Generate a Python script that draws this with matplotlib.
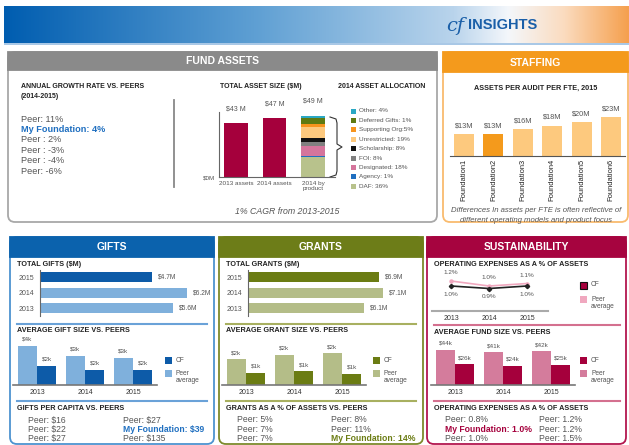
import numpy as np
import matplotlib.pyplot as plt
from matplotlib.patches import FancyBboxPatch, Rectangle
from matplotlib.colors import to_rgb

plt.rcParams['font.family'] = ['Liberation Sans', 'DejaVu Sans']

W, H = 629, 445

# ---- data ----
growth_labels = ['Peer: 11%', 'My Foundation: 4%', 'Peer : 2%', 'Peer : -3%', 'Peer : -4%', 'Peer: -6%']
asset_cats = ['2013 assets', '2014 assets', '2014 by\nproduct']
asset_totals = [43, 47, 49]
alloc_names = ['DAF: 36%', 'Agency: 1%', 'Designated: 18%', 'FOI: 8%', 'Scholarship: 8%',
               'Unrestricted: 19%', 'Supporting Org:5%', 'Deferred Gifts: 1%', 'Other: 4%']
alloc_share = [32, 2, 16, 7, 7, 18, 5, 10, 3]  # share of the stacked bar as drawn
alloc_colors = ['#b8c28c', '#1f6fc0', '#d5759c', '#808080', '#111111',
                '#fdc97e', '#f7941d', '#5f7a12', '#2aa8c4']

fte_names = ['Foundation1', 'Foundation2', 'Foundation3', 'Foundation4', 'Foundation5', 'Foundation6']
fte_assets = [13, 13, 16, 18, 20, 23]

years = ['2013', '2014', '2015']
total_gifts = [5.6, 6.2, 4.7]
gift_peer = [3.9, 2.9, 2.7]
gift_cf = [1.9, 1.55, 1.5]
gifts_left = ['Peer: $16', 'Peer: $22', 'Peer: $27']
gifts_right = ['Peer: $27', 'My Foundation: $39', 'Peer: $135']

total_grants = [6.1, 7.1, 6.9]
grant_peer = [1.7, 2.0, 2.1]
grant_cf = [0.8, 0.9, 0.75]
grants_left = ['Peer: 5%', 'Peer: 7%', 'Peer: 7%']
grants_right = ['Peer: 8%', 'Peer: 11%', 'My Foundation: 14%']

opex_peer = [1.2, 1.0, 1.1]
opex_cf = [1.0, 0.9, 1.0]
fund_peer = [44, 41, 42]
fund_cf = [26, 24, 25]
opex_left = ['Peer: 0.8%', 'My Foundation: 1.0%', 'Peer: 1.0%']
opex_right = ['Peer: 1.2%', 'Peer: 1.2%', 'Peer: 1.5%']

GREY_TXT = '#555555'

fig = plt.figure(figsize=(6.29, 4.45), dpi=100)
bg = fig.add_axes([0, 0, 1, 1])
bg.set_xlim(0, W)
bg.set_ylim(H, 0)
bg.axis('off')


def px_axes(x0, y0, x1, y1):
    ax = fig.add_axes([x0 / W, 1 - y1 / H, (x1 - x0) / W, (y1 - y0) / H])
    ax.patch.set_alpha(0)
    for s in ax.spines.values():
        s.set_visible(False)
    return ax


def T(x, y, s, size=6, color=GREY_TXT, weight='normal', ha='left', va='center', **kw):
    bg.text(x, y, s, size=size, color=color, weight=weight, ha=ha, va=va, **kw)


def panel(x0, y0, x1, y1, edge, head, title, hh=20, lw=1.3):
    bg.add_patch(FancyBboxPatch((x0, y0), x1 - x0, y1 - y0,
                                boxstyle='round,pad=0,rounding_size=7',
                                fc='white', ec=edge, lw=lw))
    bg.add_patch(Rectangle((x0, y0), x1 - x0, hh, fc=head, ec=head, lw=lw))
    T((x0 + x1) / 2, y0 + hh / 2 + 0.5, title, size=7.5, color='white', weight='bold', ha='center')


# ---- header gradient ----
stops_x = [0, 250, 450, 505, 560, 625]
stops_c = ['#005db0', '#5e9fd3', '#b9d4ec', '#f4f7fb', '#fbdcc0', '#f5a04e']
xs = np.linspace(0, 625, 400)
rgb = np.array([to_rgb(c) for c in stops_c])
grad = np.stack([np.interp(xs, stops_x, rgb[:, k]) for k in range(3)], axis=-1)[None, :, :]
bg.imshow(grad, extent=[4, 629, 43, 6], aspect='auto', zorder=0)
bg.add_patch(Rectangle((4, 43), 625, 1.5, fc='#a9c8e6', ec='none'))
T(464, 26, 'cf', size=14, color='#1a5fa8', ha='right', family='DejaVu Serif', style='italic')
T(468, 25, 'INSIGHTS', size=10.5, color='#1a5fa8', weight='bold')

# ---- panels ----
panel(8, 52, 437, 222, '#a8a8a8', '#8a8a8a', 'FUND ASSETS', hh=18)
panel(443, 52, 628, 222, '#f9bb6e', '#f49a1c', 'STAFFING')
panel(10, 237, 214, 444, '#4d93d0', '#0b62ad', 'GIFTS')
panel(219, 237, 423, 444, '#7d8a2c', '#6d7d18', 'GRANTS')
panel(427, 237, 626, 444, '#b3174f', '#a6043f', 'SUSTAINABILITY')

# ---- fund assets: growth list ----
T(21, 87, 'ANNUAL GROWTH RATE VS. PEERS', size=5, color='#222222', weight='bold')
T(21, 97, '(2014-2015)', size=5, color='#222222', weight='bold')
for i, s in enumerate(growth_labels):
    mine = s.startswith('My')
    T(21, 119 + i * 10.4, s, size=6.6, color='#1f6fc0' if mine else GREY_TXT,
      weight='bold' if mine else 'normal')
bg.plot([174, 174], [100, 187], color='#888888', lw=1.3)

# ---- fund assets: total asset size ----
T(261, 87, 'TOTAL ASSET SIZE ($M)', size=5, color='#222222', weight='bold', ha='center')
T(382, 87, '2014 ASSET ALLOCATION', size=5, color='#222222', weight='bold', ha='center')
ax = px_axes(219, 100, 335, 177)
pos = np.arange(3)
ax.bar(pos[:2], asset_totals[:2], width=0.62, color='#a5003c')
bottom = 0
for share, col in zip(alloc_share, alloc_colors):
    h = asset_totals[2] * share / 100
    ax.bar(pos[2], h, bottom=bottom, width=0.62, color=col)
    bottom += h
for p, v in zip(pos, asset_totals):
    ax.annotate(f'${v} M', (p, v), xytext=(0, 8), textcoords='offset points',
                ha='center', va='bottom', size=5, color=GREY_TXT)
ax.set_xlim(-0.44, 2.57)
ax.set_ylim(0, 61.8)
ax.spines['left'].set_visible(True)
ax.spines['bottom'].set_visible(True)
ax.spines['left'].set_bounds(0, 52)
ax.spines['left'].set_color('#666666')
ax.spines['bottom'].set_color('#666666')
ax.set_yticks([0])
ax.set_yticklabels(['$0M'], size=4.5, color=GREY_TXT)
ax.set_xticks(pos)
ax.set_xticklabels(asset_cats, size=4.6, color=GREY_TXT, linespacing=1.0)
ax.tick_params(length=0, pad=3)

# bracket
bx = [330, 336, 337, 337, 342, 337, 337, 336, 330]
by = [117, 119, 123, 144, 147, 150, 171, 175, 177]
bg.plot(bx, by, color='#333333', lw=0.8)

for i, (name, col) in enumerate(zip(alloc_names[::-1], alloc_colors[::-1])):
    y = 111 + i * 9.4
    bg.add_patch(Rectangle((351, y - 2.5), 5, 5, fc=col, ec='none'))
    T(359, y, name, size=4.6)

T(287, 211, '1% CAGR from 2013-2015', size=6.3, style='italic', ha='center')

# ---- staffing ----
T(536, 88, 'ASSETS PER AUDIT PER FTE, 2015', size=5.2, color='#222222', weight='bold', ha='center')
ax = px_axes(450, 110, 625, 156)
fpos = np.arange(len(fte_assets))
fcols = ['#f49a1c' if i == 1 else '#fdc97e' for i in fpos]
ax.bar(fpos, fte_assets, width=0.68, color=fcols)
for p, v in zip(fpos, fte_assets):
    ax.annotate(f'${v}M', (p, v), xytext=(0, 3.5), textcoords='offset points',
                ha='center', va='bottom', size=5.3, color=GREY_TXT)
ax.set_xlim(-0.48, 5.48)
ax.set_ylim(0, 27.4)
ax.spines['bottom'].set_visible(True)
ax.spines['bottom'].set_color('#555555')
ax.set_yticks([])
ax.set_xticks(fpos)
ax.set_xticklabels(fte_names, rotation=90, size=5.4, color='#222222')
ax.tick_params(length=0, pad=2)
T(536, 211, 'Differences In assets per FTE is often reflective of', size=5.6, style='italic', ha='center')
T(536, 220, 'different operating models and product focus', size=5.6, style='italic', ha='center')


# ---- shared helpers for the three lower panels ----
def hbars(x0, title, vals, cols, axbox, xmax):
    T(x0, 265, title, size=5.2, color='#222222', weight='bold')
    ax = px_axes(*axbox)
    ypos = np.arange(3)
    ax.barh(ypos, vals, height=0.65, color=cols)
    for p, v in zip(ypos, vals):
        ax.text(v + xmax * 0.035, p, f'${v}M', size=4.8, color=GREY_TXT, va='center')
    ax.set_xlim(0, xmax)
    ax.set_ylim(-0.5, 2.47)
    ax.spines['left'].set_visible(True)
    ax.spines['left'].set_color('#666666')
    ax.set_xticks([])
    ax.set_yticks(ypos)
    ax.set_yticklabels(years, size=5, color=GREY_TXT)
    ax.tick_params(length=0, pad=4)


def grouped(axbox, peer, cf, c_peer, c_cf, ymax, fmt):
    ax = px_axes(*axbox)
    gp = np.arange(3)
    ax.bar(gp - 0.2, peer, width=0.4, color=c_peer)
    ax.bar(gp + 0.2, cf, width=0.4, color=c_cf)
    for p, v in zip(gp, peer):
        ax.annotate(fmt(v), (p - 0.2, v), xytext=(0, 3), textcoords='offset points',
                    ha='center', va='bottom', size=4.6, color=GREY_TXT)
    for p, v in zip(gp, cf):
        ax.annotate(fmt(v), (p + 0.2, v), xytext=(0, 3), textcoords='offset points',
                    ha='center', va='bottom', size=4.6, color=GREY_TXT)
    ax.set_xlim(-0.5, 2.5)
    ax.set_ylim(0, ymax)
    ax.spines['bottom'].set_visible(True)
    ax.spines['bottom'].set_color('#777777')
    ax.spines['bottom'].set_linewidth(1.2)
    ax.set_yticks([])
    ax.set_xticks(gp)
    ax.set_xticklabels(years, size=5, color='#333333')
    ax.tick_params(length=0, pad=3)
    return ax


def legend(x, y1, y2, c_cf, c_peer, cf_edge='none'):
    bg.add_patch(Rectangle((x, y1 - 3.5), 7, 7, fc=c_cf, ec=cf_edge, lw=0.8))
    T(x + 11, y1, 'CF', size=4.8)
    bg.add_patch(Rectangle((x, y2 - 3.5), 7, 7, fc=c_peer, ec='none'))
    T(x + 11, y2 + 4, 'Peer\naverage', size=4.8, linespacing=1.1)


def listing(xl, xr, left, right, hl):
    for i, (a, b) in enumerate(zip(left, right)):
        y = 420 + i * 9.3
        for x, s in ((xl, a), (xr, b)):
            mine = s.startswith('My')
            T(x, y, s, size=6.2, color=hl if mine else GREY_TXT, weight='bold' if mine else 'normal')


# ---- gifts ----
hbars(17, 'TOTAL GIFTS ($M)', total_gifts, ['#7fb0dc', '#7fb0dc', '#0d5ba8'], (40, 270, 207, 316), 7.03)
bg.plot([17, 207], [324, 324], color='#6aa2d8', lw=1.5)
T(17, 331, 'AVERAGE GIFT SIZE VS. PEERS', size=5.2, color='#222222', weight='bold')
grouped((13, 335, 157, 385), gift_peer, gift_cf, '#7fb0dc', '#0d5ba8', 5.0, lambda v: f'${v:.0f}k')
legend(165, 360, 373, '#0d5ba8', '#7fb0dc')
bg.plot([17, 207], [401, 401], color='#6aa2d8', lw=1.5)
T(17, 408, 'GIFTS PER CAPITA VS. PEERS', size=5.2, color='#222222', weight='bold')
listing(28, 123, gifts_left, gifts_right, '#1f6fc0')

# ---- grants ----
hbars(226, 'TOTAL GRANTS ($M)', total_grants, ['#b4bd88', '#b4bd88', '#6b7c13'], (248, 270, 416, 316), 8.85)
bg.plot([226, 416], [324, 324], color='#a8b060', lw=1.5)
T(226, 331, 'AVERAGE GRANT SIZE VS. PEERS', size=5.2, color='#222222', weight='bold')
grouped((222, 335, 366, 385), grant_peer, grant_cf, '#b4bd88', '#6b7c13', 3.33, lambda v: f'${v:.0f}k')
legend(373, 360, 373, '#6b7c13', '#b4bd88')
bg.plot([226, 416], [401, 401], color='#a8b060', lw=1.5)
T(226, 408, 'GRANTS AS A % OF ASSETS VS. PEERS', size=5.2, color='#222222', weight='bold')
listing(237, 331, grants_left, grants_right, '#6b7c13')

# ---- sustainability ----
T(434, 265, 'OPERATING EXPENSES AS A % OF ASSETS', size=5.2, color='#222222', weight='bold')
ax = px_axes(432, 268, 548, 311)
lp = np.arange(3)
ax.plot(lp, opex_peer, color='#f0a8bf', lw=1.2, marker='o', ms=2.2)
ax.plot(lp, opex_cf, color='#222222', lw=1.2, marker='D', ms=2.2)
for p, a, b in zip(lp, opex_peer, opex_cf):
    ax.annotate(f'{a:.1f}%', (p, a), xytext=(0, 4), textcoords='offset points',
                ha='center', va='bottom', size=4.6, color=GREY_TXT)
    ax.annotate(f'{b:.1f}%', (p, b), xytext=(0, -4), textcoords='offset points',
                ha='center', va='top', size=4.6, color=GREY_TXT)
ax.set_xlim(-0.5, 2.55)
ax.set_ylim(0, 1.72)
ax.spines['bottom'].set_visible(True)
ax.spines['bottom'].set_color('#aaaaaa')
ax.spines['bottom'].set_linewidth(1.5)
ax.set_yticks([])
ax.set_xticks(lp)
ax.set_xticklabels(years, size=5, color='#333333')
ax.tick_params(length=0, pad=3)
legend(580, 285, 299, '#a5003c', '#f0a8bf', cf_edge='#111111')
bg.plot([434, 620], [325, 325], color='#d4708f', lw=1.5)
T(434, 333, 'AVERAGE FUND SIZE VS. PEERS', size=5.2, color='#222222', weight='bold')
grouped((431, 335, 575, 385), fund_peer, fund_cf, '#d47c9c', '#a5003c', 62.5, lambda v: f'${v}k')
legend(580, 360, 373, '#a5003c', '#d47c9c')
bg.plot([434, 620], [401, 401], color='#d4708f', lw=1.5)
T(434, 408, 'OPERATING EXPENSES AS A % OF ASSETS', size=5.2, color='#222222', weight='bold')
listing(445, 539, opex_left, opex_right, '#a5003c')

fig.savefig('out.png', dpi=100)
